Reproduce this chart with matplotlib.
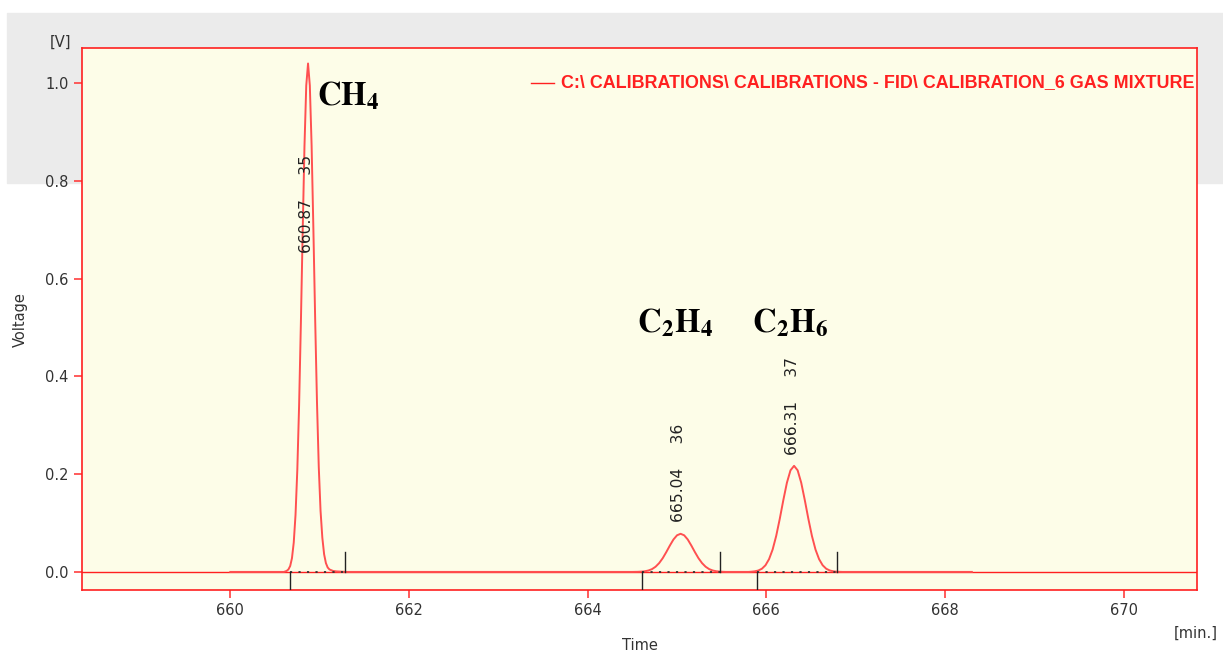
import matplotlib
matplotlib.use("Agg")
import matplotlib.pyplot as plt
from matplotlib.patches import Rectangle

# ---- data ----
# baseline before/after peaks (min, V)
base_t = [660.0, 660.60, 661.30, 664.50, 665.55, 665.80, 666.85, 668.30]
base_v = [0.0, 0.0, 0.0, 0.0, 0.0, 0.0, 0.0, 0.0]

ch4_t = [660.60, 660.63, 660.65, 660.67, 660.69, 660.71, 660.73, 660.75, 660.77, 660.79,
         660.81, 660.83, 660.85, 660.87, 660.89, 660.91, 660.93, 660.95, 660.97, 660.99,
         661.01, 661.03, 661.05, 661.07, 661.09, 661.11, 661.15, 661.19, 661.30]
ch4_v = [0.0, 0.002, 0.005, 0.012, 0.028, 0.060, 0.117, 0.209, 0.341, 0.510,
         0.696, 0.870, 0.995, 1.040, 0.995, 0.872, 0.700, 0.515, 0.348, 0.215,
         0.125, 0.070, 0.036, 0.018, 0.009, 0.005, 0.002, 0.001, 0.0]

c2h4_t = [664.50, 664.56, 664.60, 664.64, 664.68, 664.72, 664.76, 664.80, 664.84, 664.88,
          664.92, 664.96, 665.00, 665.04, 665.08, 665.12, 665.16, 665.20, 665.24, 665.28,
          665.32, 665.36, 665.40, 665.44, 665.48, 665.52, 665.55]
c2h4_v = [0.0, 0.0002, 0.0006, 0.0013, 0.0029, 0.0057, 0.0106, 0.0180, 0.0281, 0.0406,
          0.0540, 0.0663, 0.0749, 0.0780, 0.0749, 0.0663, 0.0540, 0.0406, 0.0281, 0.0180,
          0.0106, 0.0057, 0.0029, 0.0013, 0.0006, 0.0002, 0.0]

c2h6_t = [665.80, 665.83, 665.87, 665.91, 665.95, 665.99, 666.03, 666.07, 666.11, 666.15,
          666.19, 666.23, 666.27, 666.31, 666.35, 666.39, 666.43, 666.47, 666.51, 666.55,
          666.59, 666.63, 666.67, 666.71, 666.75, 666.79, 666.85]
c2h6_v = [0.0, 0.0004, 0.0012, 0.0029, 0.0065, 0.0136, 0.0261, 0.0457, 0.0736, 0.1086,
          0.1470, 0.1825, 0.2078, 0.2170, 0.2078, 0.1825, 0.1470, 0.1086, 0.0736, 0.0457,
          0.0261, 0.0136, 0.0065, 0.0029, 0.0012, 0.0004, 0.0]

# peak integration limits (start, end) and labels
peak_start = [660.67, 664.61, 665.89]
peak_end = [661.28, 665.48, 666.79]
peak_rt = [660.87, 665.04, 666.31]
peak_id = [35, 36, 37]
label_y = [0.652, 0.102, 0.240]

names = [r"$\mathbf{CH_4}$", r"$\mathbf{C_2H_4}$", r"$\mathbf{C_2H_6}$"]
name_x = [660.97, 664.55, 665.84]
name_y = [0.955, 0.49, 0.49]

legend_text = "C:\\ CALIBRATIONS\\ CALIBRATIONS - FID\\ CALIBRATION_6 GAS MIXTURE"

plt.rcParams["mathtext.fontset"] = "stix"

fig = plt.figure(figsize=(12.23, 6.54), dpi=100)
fig.patches.append(Rectangle((7 / 1223, 1 - 183 / 654), 1, 170 / 654,
                             transform=fig.transFigure, color="#ebebeb", zorder=-5))
ax = fig.add_axes([82 / 1223, 1 - 590 / 654, 1115 / 1223, 542 / 654])
ax.set_zorder(1)
ax.set_facecolor("#fdfde8")

red = "#ff2020"
ax.axhline(0, color=red, lw=1.0, zorder=2)
# trace assembled piecewise: baseline + peaks
seg_t = [base_t[0], base_t[1]] + ch4_t + [base_t[2], base_t[3]] + c2h4_t + \
        [base_t[5]] + c2h6_t + [base_t[7]]
seg_v = [base_v[0], base_v[1]] + ch4_v + [base_v[2], base_v[3]] + c2h4_v + \
        [base_v[5]] + c2h6_v + [base_v[7]]
ax.plot(seg_t, seg_v, color="#ff5050", lw=1.4, zorder=3, solid_joinstyle="round")

for s, e, rt, pid, ly in zip(peak_start, peak_end, peak_rt, peak_id, label_y):
    ax.plot([s, e], [0, 0], color="#333333", ls=(0, (1.2, 3.5)), lw=1.3, zorder=4)
    ax.plot([s, s], [-0.04, 0], color="#222222", lw=1, zorder=4)
    ax.plot([e, e], [0, 0.04], color="#222222", lw=1, zorder=4)
    ax.text(rt - 0.02, ly, f"{rt:.2f}     {pid}", rotation=90, ha="center", va="bottom",
            fontsize=11.2, color="#222222", zorder=5)

for nm, nx, ny in zip(names, name_x, name_y):
    ax.text(nx, ny, nm, fontsize=23.5, color="black", ha="left", va="baseline", zorder=5)

ax.set_xlim(658.34, 670.82)
ax.set_ylim(-0.037, 1.0717)
ax.set_xticks([660, 662, 664, 666, 668, 670])
ax.set_yticks([0.0, 0.2, 0.4, 0.6, 0.8, 1.0])
ax.set_yticklabels(["0.0", "0.2", "0.4", "0.6", "0.8", "1.0"])
ax.tick_params(axis="both", direction="out", length=6, color="#ff4040", width=1.2,
               labelsize=10.5, labelcolor="#333333")
for sp in ax.spines.values():
    sp.set_color(red)
    sp.set_linewidth(1.2)

# legend entry
ax.plot([663.36, 663.62], [1.0, 1.0], color=red, lw=1.0, zorder=5)
ax.text(663.70, 1.0, legend_text, color=red, fontsize=12.9, fontweight="bold",
        family=["Liberation Sans", "DejaVu Sans"],
        ha="left", va="center", zorder=5, clip_on=True)

fig.text(60 / 1223, 1 - 42 / 654, "[V]", fontsize=10.5, color="#333333", ha="center", va="center")
fig.text(20 / 1223, 1 - 320 / 654, "Voltage", fontsize=10.5, color="#333333",
         rotation=90, ha="center", va="center")
fig.text(640 / 1223, 1 - 645 / 654, "Time", fontsize=10.5, color="#333333", ha="center", va="center")
fig.text(1196 / 1223, 1 - 633 / 654, "[min.]", fontsize=10.5, color="#333333", ha="center", va="center")

fig.savefig("out.png", dpi=100)
